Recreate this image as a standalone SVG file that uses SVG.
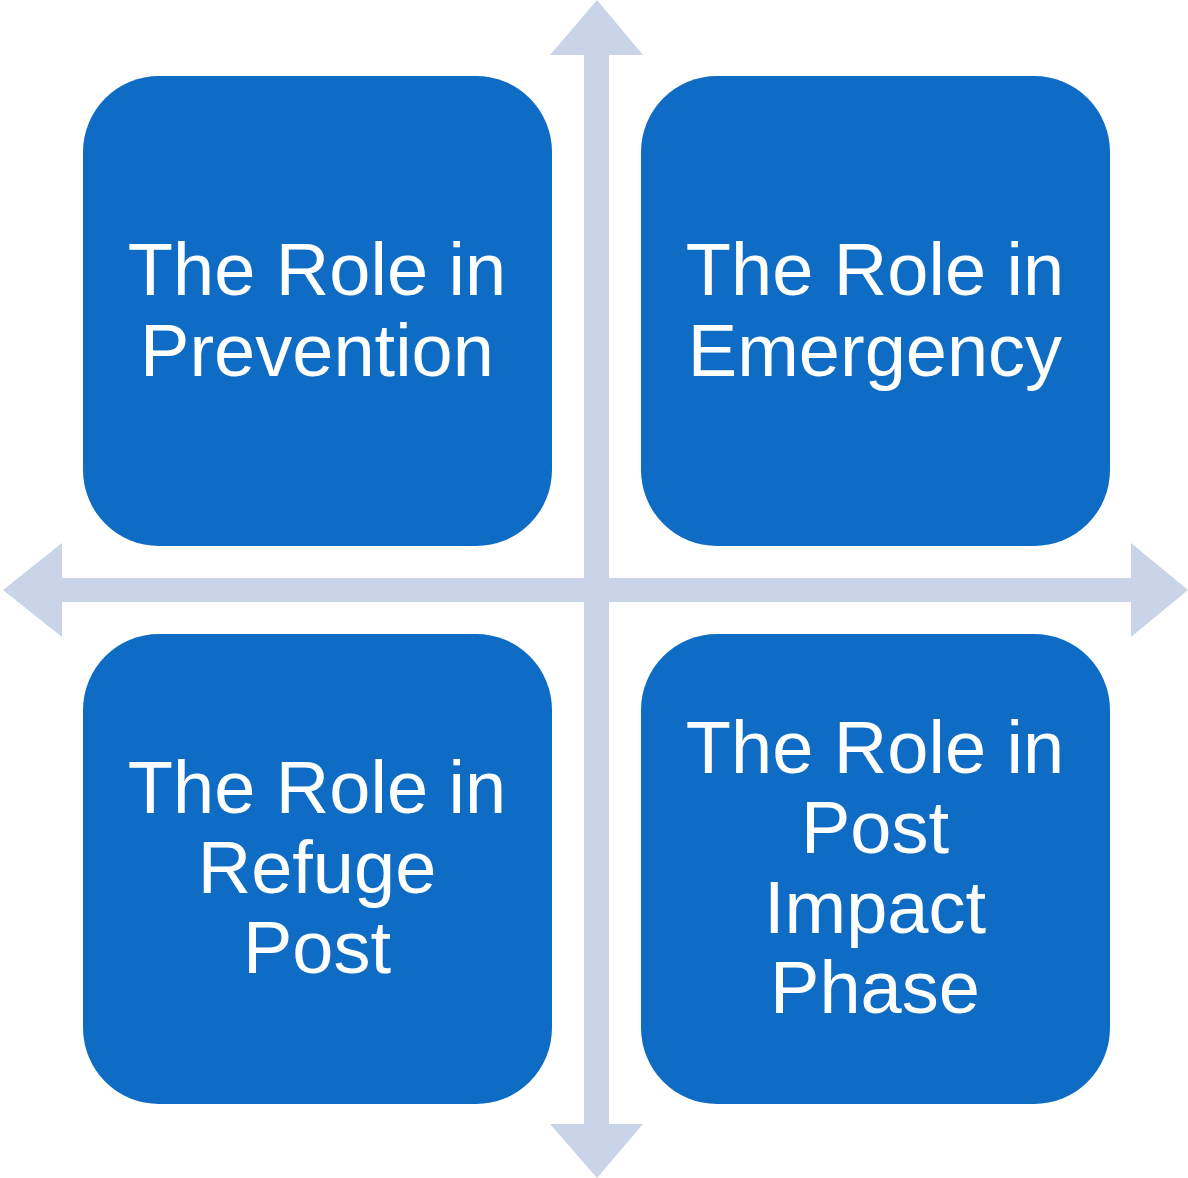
<svg xmlns="http://www.w3.org/2000/svg" width="1188" height="1178" viewBox="0 0 1188 1178">
<style>
.box{fill:#0F6CC4}
.arrow{fill:#C9D4E8}
.lbl{fill:#FFFFFF;font-family:"Liberation Sans",Arial,sans-serif;font-size:74px;text-anchor:middle}
</style>
<rect width="1188" height="1178" fill="#FFFFFF"/>
<g id="connectors">
<polygon class="arrow" points="597,0 643,55 609,55 609,578 1131,578 1131,543 1188,590 1131,637 1131,602 609,602 609,1124 643,1124 597,1178 550,1124 584,1124 584,602 62,602 62,637 3,590 62,543 62,578 584,578 584,55 550,55"/>
</g>
<g id="node-prevention">
<rect class="box" x="83" y="76" width="469" height="470" rx="76" ry="76"/>
<text class="lbl" x="317" y="295">The Role in</text>
<text class="lbl" x="317" y="376">Prevention</text>
</g>
<g id="node-emergency">
<rect class="box" x="641" y="76" width="469" height="470" rx="76" ry="76"/>
<text class="lbl" x="875" y="295">The Role in</text>
<text class="lbl" x="875" y="376">Emergency</text>
</g>
<g id="node-refuge">
<rect class="box" x="83" y="634" width="469" height="470" rx="76" ry="76"/>
<text class="lbl" x="317" y="813">The Role in</text>
<text class="lbl" x="317" y="893">Refuge</text>
<text class="lbl" x="317" y="973">Post</text>
</g>
<g id="node-post-impact">
<rect class="box" x="641" y="634" width="469" height="470" rx="76" ry="76"/>
<text class="lbl" x="875" y="773">The Role in</text>
<text class="lbl" x="875" y="853">Post</text>
<text class="lbl" x="875" y="933">Impact</text>
<text class="lbl" x="875" y="1013">Phase</text>
</g>
</svg>
